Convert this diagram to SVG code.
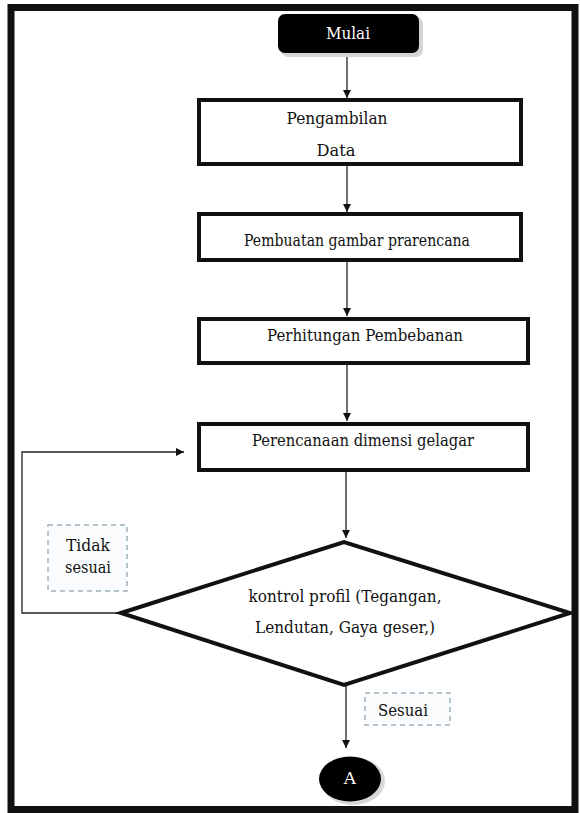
<svg xmlns="http://www.w3.org/2000/svg" width="580" height="813" viewBox="0 0 580 813">
<defs>
<marker id="arr" viewBox="0 0 10 10" refX="10" refY="5" markerWidth="8" markerHeight="8" markerUnits="userSpaceOnUse" orient="auto">
<path d="M0,0 L10,5 L0,10 z" fill="#111"/>
</marker>
<style>
text{font-family:"DejaVu Serif","Liberation Serif",serif}
.t{font-size:17px;fill:#111;text-anchor:middle}
.w{fill:#fff}
.box{fill:#fff;stroke:#111;stroke-width:4}
.lbl{fill:#fafcfd;stroke:#9fb3bd;stroke-width:1.5;stroke-dasharray:5,4}
.c{fill:none;stroke:#222;stroke-width:1.3}
</style>
</defs>
<rect x="0" y="0" width="580" height="813" fill="#fff"/>
<rect x="11" y="7.5" width="564" height="802" fill="#fff" stroke="#111" stroke-width="7"/>

<g id="connectors">
<line class="c" x1="347" y1="53" x2="347" y2="98" marker-end="url(#arr)"/>
<line class="c" x1="347" y1="166" x2="347" y2="212" marker-end="url(#arr)"/>
<line class="c" x1="347" y1="262" x2="347" y2="316" marker-end="url(#arr)"/>
<line class="c" x1="347" y1="364" x2="347" y2="421" marker-end="url(#arr)"/>
<line class="c" x1="346" y1="472" x2="346" y2="538" marker-end="url(#arr)"/>
<polyline class="c" points="121,613 22,613 22,452 184,452" marker-end="url(#arr)"/>
<line class="c" x1="346" y1="685" x2="346" y2="748" marker-end="url(#arr)"/>
</g>

<g id="mulai">
<rect x="281" y="17" width="142" height="40" rx="7" fill="#d4d4d4"/>
<rect x="278" y="14" width="141" height="39" rx="7" fill="#000"/>
<text class="t w" x="348" y="39" textLength="44" lengthAdjust="spacingAndGlyphs">Mulai</text>
</g>

<g id="pengambilan">
<rect class="box" x="199" y="100" width="322" height="64"/>
<text class="t" x="337" y="124" textLength="101" lengthAdjust="spacingAndGlyphs">Pengambilan</text>
<text class="t" x="336" y="156" textLength="39" lengthAdjust="spacingAndGlyphs">Data</text>
</g>

<g id="pembuatan">
<rect class="box" x="199" y="214" width="322" height="46"/>
<text class="t" x="357" y="246" textLength="226" lengthAdjust="spacingAndGlyphs">Pembuatan gambar prarencana</text>
</g>

<g id="perhitungan">
<rect class="box" x="199" y="319" width="329" height="44"/>
<text class="t" x="365" y="341" textLength="196" lengthAdjust="spacingAndGlyphs">Perhitungan Pembebanan</text>
</g>

<g id="perencanaan">
<rect class="box" x="199" y="424" width="329" height="46"/>
<text class="t" x="363" y="446" textLength="222" lengthAdjust="spacingAndGlyphs">Perencanaan dimensi gelagar</text>
</g>

<g id="kontrol">
<polygon points="121,613 344,542 570,613 344,685" fill="#fff" stroke="#111" stroke-width="4" stroke-linejoin="miter"/>
<text class="t" x="345" y="602" textLength="193" lengthAdjust="spacingAndGlyphs">kontrol profil (Tegangan,</text>
<text class="t" x="345" y="633" textLength="180" lengthAdjust="spacingAndGlyphs">Lendutan, Gaya geser,)</text>
</g>

<g id="tidak-sesuai">
<rect class="lbl" x="48" y="525" width="79" height="66"/>
<text class="t" x="88" y="551" textLength="44" lengthAdjust="spacingAndGlyphs">Tidak</text>
<text class="t" x="88" y="573" textLength="46" lengthAdjust="spacingAndGlyphs">sesuai</text>
</g>

<g id="sesuai">
<rect class="lbl" x="365" y="693" width="85" height="32"/>
<text class="t" x="403" y="716" textLength="50" lengthAdjust="spacingAndGlyphs">Sesuai</text>
</g>

<g id="a">
<ellipse cx="353" cy="781" rx="32" ry="24" fill="#d8d8d8"/>
<ellipse cx="350" cy="779" rx="31" ry="22.5" fill="#000"/>
<text class="t w" x="350" y="784" font-size="13">A</text>
</g>
</svg>
